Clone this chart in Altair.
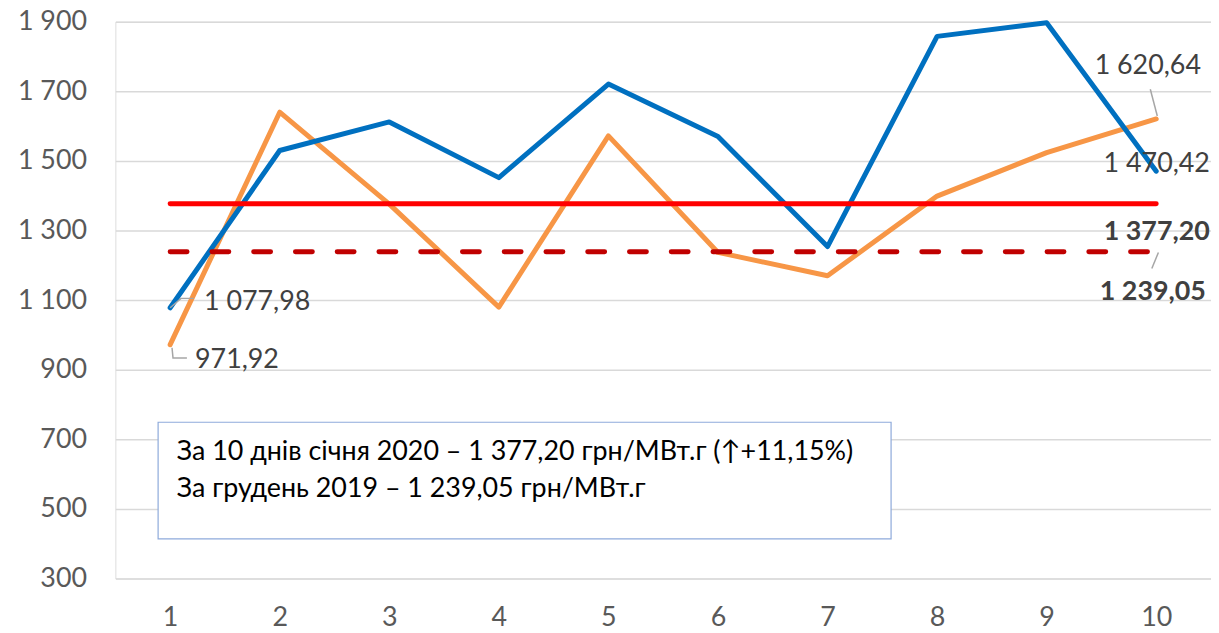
import altair as alt
import pandas as pd

days = [1, 2, 3, 4, 5, 6, 7, 8, 9, 10]
blue_vals = [1077.98, 1530, 1612, 1452, 1721, 1570, 1254, 1858, 1897, 1470.42]
orange_vals = [971.92, 1640, 1376, 1080, 1572, 1237, 1170, 1399, 1524, 1620.64]
avg_jan = 1377.20
avg_dec = 1239.05
y_ticks = [300, 500, 700, 900, 1100, 1300, 1500, 1700, 1900]
box_lines = ["За 10 днів січня 2020 – 1 377,20 грн/МВт.г (\u2191+11,15%)",
             "За грудень 2019 – 1 239,05 грн/МВт.г"]

FONT = "Lato, 'Noto Sans', sans-serif"
xs = alt.Scale(domain=[0.5, 10.5], nice=False, zero=False)
ys = alt.Scale(domain=[300, 1900], nice=False, zero=False)

df_b = pd.DataFrame({"x": days, "y": blue_vals})
df_o = pd.DataFrame({"x": days, "y": orange_vals})
df_avg = pd.DataFrame({"x": [days[0]], "x2": [days[-1]], "a": [avg_jan], "d": [avg_dec]})

X = alt.X("x:Q", scale=xs, axis=alt.Axis(values=days, format="d", grid=False, domain=False, ticks=False,
                                         labelFontSize=27, labelColor="#595959", labelFont=FONT,
                                         labelPadding=26, title=None))
Y = alt.Y("y:Q", scale=ys, axis=alt.Axis(values=y_ticks, grid=True, gridColor="#D9D9D9", gridWidth=1.5,
                                         domain=False, ticks=False, labelFontSize=27, labelColor="#595959",
                                         labelFont=FONT, labelPadding=29, title=None,
                                         labelExpr="replace(format(datum.value, ',d'), ',', ' ')"))

base_o = alt.Chart(df_o).mark_line(color="#F79646", strokeWidth=5, strokeCap="round", strokeJoin="round").encode(x=X, y=Y)
base_b = alt.Chart(df_b).mark_line(color="#0070C0", strokeWidth=5, strokeCap="round", strokeJoin="round").encode(
    x=alt.X("x:Q", scale=xs), y=alt.Y("y:Q", scale=ys))

red = alt.Chart(df_avg).mark_rule(color="#FF0000", strokeWidth=5, strokeCap="round").encode(
    x=alt.X("x:Q", scale=xs), x2="x2:Q", y=alt.Y("a:Q", scale=ys))
dash = alt.Chart(df_avg).mark_rule(color="#C00000", strokeWidth=5, strokeCap="round", strokeDash=[17, 25]).encode(
    x=alt.X("x:Q", scale=xs), x2="x2:Q", y=alt.Y("d:Q", scale=ys))

# text box (data coordinates)
box_df = pd.DataFrame({"x": [0.89], "x2": [7.58], "y": [749], "y2": [414]})
box = alt.Chart(box_df).mark_rect(fill="white", stroke="#8EAADB", strokeWidth=1.2).encode(
    x=alt.X("x:Q", scale=xs), x2="x2:Q", y=alt.Y("y:Q", scale=ys), y2="y2:Q")
box_txt_df = pd.DataFrame({"x": [1.06, 1.06], "y": [663, 557], "t": box_lines})
box_txt = alt.Chart(box_txt_df).mark_text(align="left", baseline="middle", fontSize=27, font=FONT,
                                          color="#000000").encode(
    x=alt.X("x:Q", scale=xs), y=alt.Y("y:Q", scale=ys), text="t:N")


def fmt(v):
    return f"{v:,.2f}".replace(",", " ").replace(".", ",")


def label(xv, yv, dx, dy, align, bold=False):
    d = pd.DataFrame({"x": [xv], "y": [yv], "t": [fmt(yv)]})
    return alt.Chart(d).mark_text(align=align, baseline="middle", dx=dx, dy=dy, fontSize=27, font=FONT,
                                  color="#404040", fontWeight="bold" if bold else "normal").encode(
        x=alt.X("x:Q", scale=xs), y=alt.Y("y:Q", scale=ys), text="t:N")


labels = [
    label(days[0], blue_vals[0], 34, -6, "left"),
    label(days[0], orange_vals[0], 25, 15, "left"),
    label(days[-1], orange_vals[-1], 45, -53, "right"),
    label(days[-1], blue_vals[-1], 54, -7, "right"),
    label(days[-1], avg_jan, 54, 29, "right", True),
    label(days[-1], avg_dec, 50, 41, "right", True),
]

leader_df = pd.DataFrame({
    "x": [1.0, 1.099, 1.217, 1.017, 1.026, 1.153, 9.946, 10.01, 10.02, 9.96],
    "y": [1078, 1105, 1105, 963, 934, 934, 1706, 1629, 1237, 1191],
    "g": ["a", "a", "a", "b", "b", "b", "c", "c", "d", "d"],
    "o": [0, 1, 2, 0, 1, 2, 0, 1, 0, 1],
})
leaders = alt.Chart(leader_df).mark_line(color="#A6A6A6", strokeWidth=1.5).encode(
    x=alt.X("x:Q", scale=xs), y=alt.Y("y:Q", scale=ys), detail="g:N", order="o:Q")

chart = alt.layer(base_o, base_b, red, dash, box, box_txt, leaders, *labels).properties(
    width=1102, height=560, autosize=alt.AutoSizeParams(type="none"),
    padding={"left": 108, "top": 12, "right": 0, "bottom": 52},
).configure_view(stroke=None).configure(background="white")

chart.save("out.html", embed_options={"renderer": "svg", "actions": False})
